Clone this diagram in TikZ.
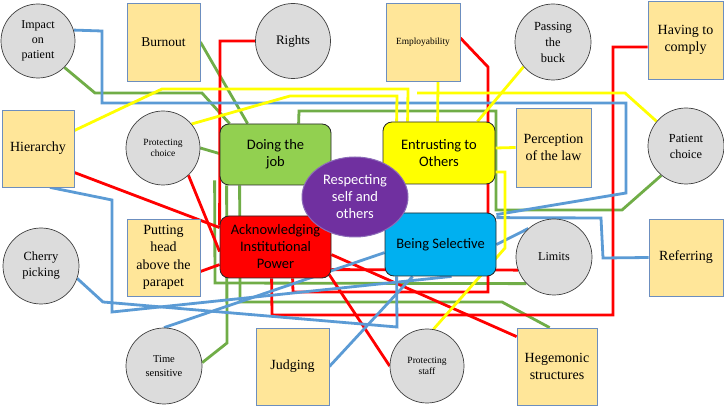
\documentclass[tikz,border=0pt]{standalone}
\usepackage{fontspec}
\setmainfont{Liberation Serif}
\newfontfamily\catfont{Carlito}
\usetikzlibrary{shapes.geometric,calc}
\definecolor{gcol}{HTML}{70AD47}
\definecolor{rcol}{HTML}{FF0000}
\definecolor{bcol}{HTML}{5B9BD5}
\definecolor{ycol}{HTML}{FFFF00}
\definecolor{boxfill}{HTML}{FFE699}
\definecolor{boxedge}{HTML}{6C8EBF}
\definecolor{circfill}{HTML}{DCDCDC}
\definecolor{circedge}{HTML}{404040}
\definecolor{jobfill}{HTML}{92D050}
\definecolor{selfill}{HTML}{00B0F0}
\definecolor{respfill}{HTML}{7030A0}
\definecolor{respedge}{HTML}{8C6BB8}
\pgfdeclarelayer{back}
\pgfdeclarelayer{bg}
\pgfsetlayers{back,bg,main}
\newcommand\myfs[2]{\fontsize{#1}{#2}\selectfont}
\begin{document}
\begin{tikzpicture}[x=1pt,y=-1pt,
 tcirc/.style={circle,draw=circedge,fill=circfill,line width=0.7pt,minimum size=#1,inner sep=0pt,align=center},
 tbox/.style={rectangle,draw=boxedge,fill=boxfill,line width=0.8pt,inner sep=0pt,align=center},
 cat/.style={rectangle,rounded corners=9pt,draw=black!85,line width=0.8pt,inner sep=0pt,align=center,font=\catfont\myfs{14.5}{17}},
 conn/.style={line width=2.8pt,line join=miter},
 gl/.style={conn,draw=gcol},
 rl/.style={conn,draw=rcol},
 bl/.style={conn,draw=bcol},
 yl/.style={conn,draw=ycol}]
\useasboundingbox (0,0) rectangle (724,406);
\begin{pgfonlayer}{back}
\fill[white] (0,0) rectangle (724,406);
\end{pgfonlayer}

\node[tcirc=74pt,font=\myfs{12}{15.3}] (imp) at (38,41) {Impact\\on\\patient};
\node[tbox,minimum width=73pt,minimum height=78pt,font=\myfs{13.5}{16}] (burn) at (163.5,42) {Burnout};
\node[tcirc=75pt,font=\myfs{13}{15}] (rights) at (293,41) {Rights};
\node[tbox,minimum width=74pt,minimum height=78pt,font=\myfs{9.4}{11}] (empl) at (423,42) {Employability};
\node[tcirc=76pt,font=\myfs{12.4}{16}] (buck) at (553,42) {Passing\\the\\buck};
\node[tbox,minimum width=75pt,minimum height=78pt,font=\myfs{14}{17.5}] (comply) at (685.5,40) {Having to\\comply};
\node[tbox,minimum width=72pt,minimum height=77pt,font=\myfs{14}{17}] (hier) at (38,148.5) {Hierarchy};
\node[tcirc=74pt,font=\myfs{9.5}{10.5}] (pchoice) at (163,148) {Protecting\\choice};
\node[cat,fill=jobfill,minimum width=111pt,minimum height=61pt] (job) at (275.5,154.5) {Doing the\\job};
\node[cat,fill=ycol,minimum width=112pt,minimum height=62pt] (entr) at (439,153) {Entrusting to\\Others};
\node[tbox,minimum width=75pt,minimum height=79pt,font=\myfs{14}{16.7}] (law) at (553.5,147.5) {Perception\\of the law};
\node[tcirc=76pt,font=\myfs{12.3}{16}] (patch) at (686,146) {Patient\\choice};
\node[tcirc=76pt,font=\myfs{12.5}{16}] (cherry) at (41,266) {Cherry\\picking};
\node[tbox,minimum width=73pt,minimum height=77pt,font=\myfs{14}{17.3}] (head) at (163.5,257.5) {Putting\\head\\above the\\parapet};
\node[cat,fill=rcol,minimum width=111pt,minimum height=62pt] (ack) at (275.5,247) {Acknowledging\\Institutional\\Power};
\node[cat,fill=selfill,minimum width=111pt,minimum height=63pt] (sel) at (440.5,244.5) {Being Selective};
\node[tcirc=76pt,font=\myfs{12.1}{15}] (limits) at (554,257) {Limits};
\node[tbox,minimum width=74pt,minimum height=77pt,font=\myfs{14}{17}] (refer) at (686,257.5) {Referring};
\node[tcirc=76pt,font=\myfs{10.5}{13.3}] (time) at (164,366) {Time\\sensitive};
\node[tbox,minimum width=73pt,minimum height=77pt,font=\myfs{14}{17}] (judg) at (292.5,366.5) {Judging};
\node[tcirc=74pt,font=\myfs{9.5}{10.7}] (pstaff) at (427,366) {Protecting\\staff};
\node[tbox,minimum width=80pt,minimum height=77pt,font=\myfs{14}{17.7}] (hege) at (557,366.5) {Hegemonic\\structures};
\node[ellipse,draw=respedge,line width=1pt,fill=respfill,text=white,minimum width=106pt,minimum height=80pt,inner sep=0pt,align=center,font=\catfont\myfs{14.5}{17}] (resp) at (355,197) {Respecting\\self and\\others};

\coordinate (yfree) at (417,93);

\begin{pgfonlayer}{bg}
% green
\draw[gl] (imp.-45) -- (95,93) -- (202,93) -- ([xshift=10pt]job.north west);
\draw[gl] (burn.east) -- ([xshift=28pt]job.north west);
\draw[gl] (pchoice.east) -- ([yshift=-30pt]job.north west);
\draw[gl] ([xshift=79pt]job.north west) -- (299,111) -- (496,111) -- (496,210) -- (622,210) -- (patch.-130);
\draw[gl] ([xshift=-5pt,yshift=5pt]job.south west) -- (215,283) -- (limits.-136);
\draw[gl] ([xshift=20pt]job.south west) -- (240,302) -- (502,302) -- ([xshift=33pt]hege.north west);
\draw[gl] ([xshift=7pt]job.south west) -- (227,343) -- (time.5);
% red
\draw[rl] (rights.west) -- (220,41) -- ([yshift=-10pt]ack.north west);
\draw[rl] ([yshift=4pt]empl.east) -- (488,67) -- (488,292) -- (293,292) -- ([xshift=73pt]ack.south west);
\draw[rl] ([yshift=-7pt]comply.west) -- (613,47) -- (613,315) -- (272,315) -- ([xshift=52pt]ack.south west);
\draw[rl] ([yshift=-24pt]hier.east) -- ([yshift=-12pt]ack.north west);
\draw[rl] (pchoice.-47) -- ([yshift=-36pt]ack.north west);
\draw[rl] ([yshift=-14pt]head.east) -- ([yshift=-49pt]ack.north west);
\draw[rl] ([yshift=-54pt]ack.north east) -- (limits.-160);
\draw[rl] ([yshift=-39pt]ack.north east) -- ([yshift=-9pt]hege.north west);
\draw[rl] ([xshift=-3pt,yshift=5pt]ack.south east) -- (pstaff.180);
% blue
\draw[bl] (imp.17) -- (102,31) -- (102,103) -- (626,103) -- (626,193) -- ([yshift=-2pt]sel.north east);
\draw[bl] ([yshift=-5pt]sel.north east) -- (601,218) -- (603,258) -- (refer.west);
\draw[bl] ([yshift=-32pt]sel.north east) -- (limits.132);
\draw[bl] ([xshift=12pt]hier.south) -- (112,200) -- (112,312) -- ([xshift=67pt]sel.south west);
\draw[bl] (cherry.-19) -- (103,302) -- (397,327) -- ([xshift=12pt]sel.south west);
\draw[bl] (time.north) -- ([yshift=-40pt]sel.north west);
\draw[bl] (judg.east) -- ([xshift=28pt]sel.south west);
% yellow
\draw[yl] ([yshift=18pt]hier.east) -- (162,89) -- (408,89) -- ([xshift=25pt]entr.north west);
\draw[yl] (pchoice.40) -- (290,96) -- (397,96) -- ([xshift=14pt]entr.north west);
\draw[yl] ([xshift=15pt]empl.south) -- ([xshift=55pt]entr.north west);
\draw[yl] (yfree) -- (625,93) -- (patch.140);
\draw[yl] (buck.-140) -- ([xshift=-18pt]entr.north east);
\draw[yl] ([yshift=5pt]entr.east) -- (law.west);
\draw[yl] ([yshift=-19pt]entr.east) -- (505,172) -- (505,248) -- (pstaff.80);
\end{pgfonlayer}
\end{tikzpicture}
\end{document}
